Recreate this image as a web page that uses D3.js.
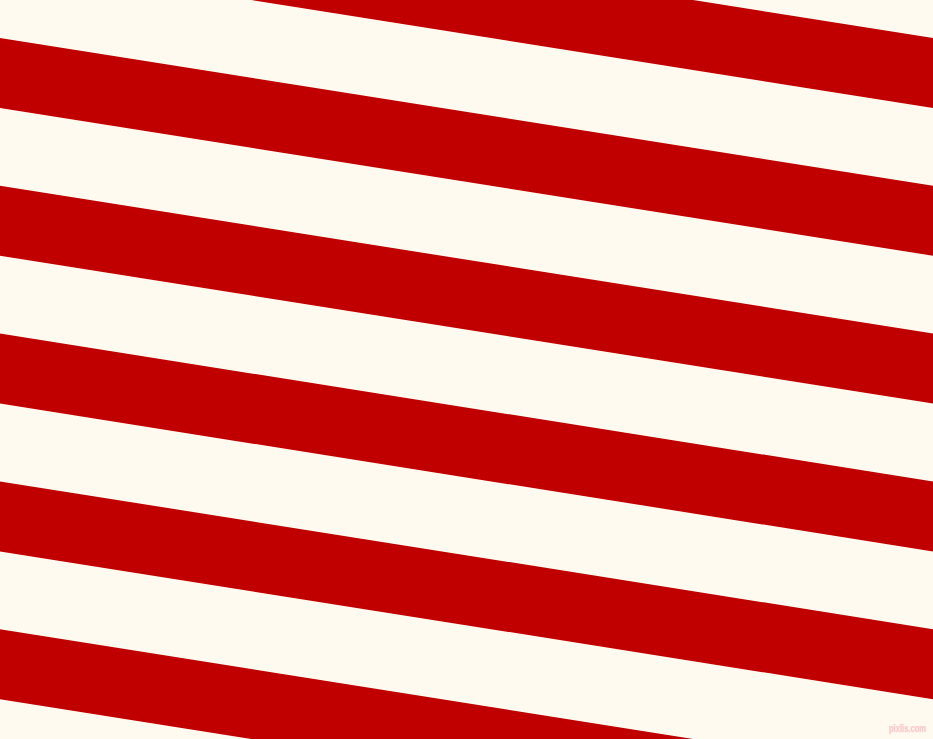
<!DOCTYPE html>
<html>
<head>
<meta charset="utf-8">
<script src="https://cdn.jsdelivr.net/npm/d3@7"></script>
<style>
  html, body { margin: 0; padding: 0; background: #fffaf0; overflow: hidden; }
</style>
</head>
<body>
<div id="box1" style="width:933px;height:739px;"></div>
<script>
"use strict";

// red band edges, read at the left edge (x = 0), in px
const red_tops = [-109.8, 38, 185.8, 333.6, 481.4, 629.2];
const red_bottoms = [-39.8, 108, 255.8, 403.6, 551.4, 699.2];

// colours
const colors = ['#fffaf0', '#c00000'];

const width = 933, height = 739;
const drop = 147.8; // how much a band falls from left to right edge (about 9 deg)

const svg = d3.select('#box1')
  .append('svg')
  .attr('width', width)
  .attr('height', height);

const x = d3.scaleLinear().domain([0, 1]).range([0, width]);
const y = d3.scaleLinear().domain([0, height]).range([0, height]);

svg.append('rect')
  .attr('width', width)
  .attr('height', height)
  .attr('fill', colors[0]);

const bands = red_tops.map((t, i) => ({ top: t, bottom: red_bottoms[i] }));

svg.selectAll('polygon.band')
  .data(bands)
  .join('polygon')
  .attr('class', 'band')
  .attr('points', d => [
    [x(0), y(d.top)],
    [x(1), y(d.top + drop)],
    [x(1), y(d.bottom + drop)],
    [x(0), y(d.bottom)]
  ].join(' '))
  .attr('fill', colors[1]);

// watermark
svg.append('text')
  .text('pixlis.com')
  .attr('x', 889)
  .attr('y', 732)
  .attr('textLength', 37)
  .attr('lengthAdjust', 'spacingAndGlyphs')
  .attr('font-family', 'Liberation Sans, sans-serif')
  .attr('font-weight', 'bold')
  .attr('font-size', 10)
  .attr('fill', '#f6b9b9')
  .attr('stroke', '#fbdede')
  .attr('stroke-width', 0.5);
</script>
</body>
</html>
